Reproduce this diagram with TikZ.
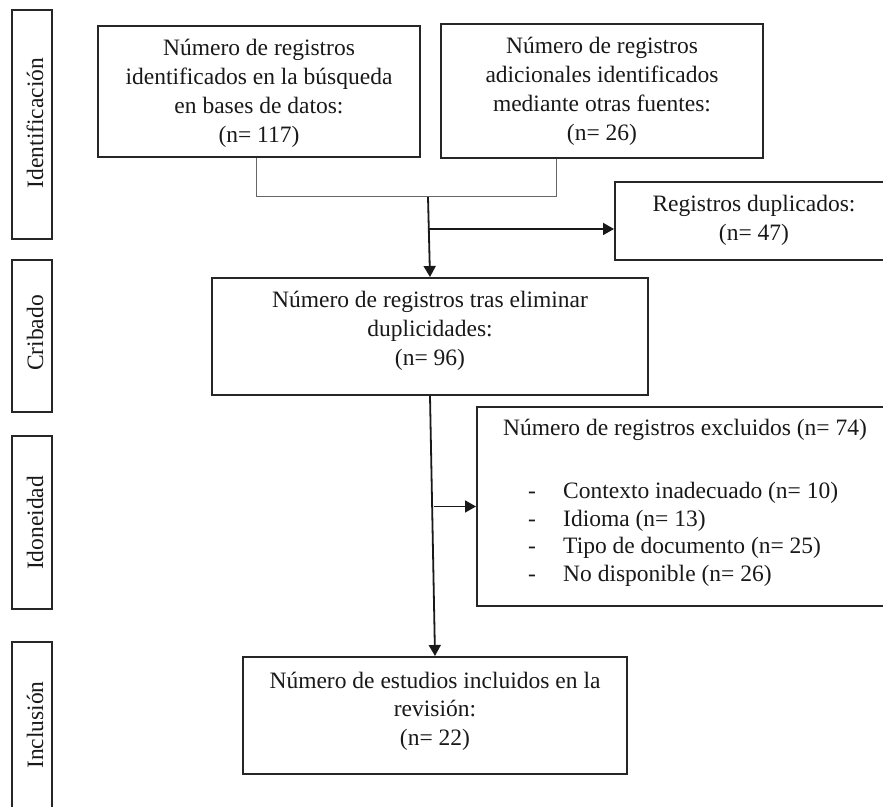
\documentclass[tikz,border=0pt]{standalone}
\usepackage{fontspec}
\setmainfont{Liberation Serif}
\usetikzlibrary{arrows.meta}
\newcommand\fs{\fontsize{23.5}{29}\selectfont}
\newcommand\fsx{\fontsize{23.5}{27.5}\selectfont}
\tikzset{
  box/.style={draw=black!85, line width=2pt, inner sep=0pt, fill=none},
  side/.style={box, minimum width=40pt},
  txt/.style={inner sep=0pt, anchor=base, font=\fs, text=black!90},
  lbl/.style={inner sep=0pt, anchor=base, rotate=90, font=\fs, text=black!90},
  thinconn/.style={draw=black!60, line width=1pt},
  arr/.style={draw=black!90, line width=1.8pt, -{Triangle[length=11pt,width=12pt]}}
}
\begin{document}
\begin{tikzpicture}[x=1pt,y=1pt]
\useasboundingbox (0,0) rectangle (883,806);
\clip (0,0) rectangle (883,806);
\fill[white] (0,0) rectangle (883,806);

% phase boxes
\node[side, minimum height=229pt] (s1) at (32,681.5) {};
\node[side, minimum height=152pt] (s2) at (32,470) {};
\node[side, minimum height=173pt] (s3) at (32,283.5) {};
\node[side, minimum height=166pt] (s4) at (32,81) {};
\node[lbl] (l1) at (43,683) {Identificación};
\node[lbl] (l2) at (43,473) {Cribado};
\node[lbl] (l3) at (43,283) {Idoneidad};
\node[lbl] (l4) at (43,81) {Inclusión};

% boxes
\node[box, minimum width=322pt, minimum height=131pt] (b1) at (259,714.5) {};
\node[txt] (t1) at (259,750) {\begin{tabular}[t]{@{}c@{}}Número de registros\\identificados en la búsqueda\\en bases de datos:\\(n= 117)\end{tabular}};

\node[box, minimum width=322pt, minimum height=134pt] (b2) at (602,715) {};
\node[txt] (t2) at (602,752) {\begin{tabular}[t]{@{}c@{}}Número de registros\\adicionales identificados\\mediante otras fuentes:\\(n= 26)\end{tabular}};

\node[box, minimum width=278pt, minimum height=78pt] (dup) at (754,585) {};
\node[txt] (td) at (754,594) {\begin{tabular}[t]{@{}c@{}}Registros duplicados:\\(n= 47)\end{tabular}};

\node[box, minimum width=436pt, minimum height=117pt] (b3) at (430,469.5) {};
\node[txt] (t3) at (430,498) {\begin{tabular}[t]{@{}c@{}}Número de registros tras eliminar\\duplicidades:\\(n= 96)\end{tabular}};

\node[box, minimum width=423pt, minimum height=199pt] (ex) at (688.5,299.5) {};
\node[inner sep=0pt, anchor=base west, font=\fsx, text=black!90] (tx) at (503,370) {\begin{tabular}[t]{@{}l@{}}Número de registros excluidos (n= 74)\\[35.5pt]
\hspace*{25pt}\makebox[35pt][l]{-}Contexto inadecuado (n= 10)\\
\hspace*{25pt}\makebox[35pt][l]{-}Idioma (n= 13)\\
\hspace*{25pt}\makebox[35pt][l]{-}Tipo de documento (n= 25)\\
\hspace*{25pt}\makebox[35pt][l]{-}No disponible (n= 26)\end{tabular}};

\node[box, minimum width=384pt, minimum height=117pt] (b4) at (435,90.5) {};
\node[txt] (t4) at (435,118) {\begin{tabular}[t]{@{}c@{}}Número de estudios incluidos en la\\revisión:\\(n= 22)\end{tabular}};

% connectors
\coordinate (ja) at (556,609);
\coordinate (m) at (428,609);
\coordinate (k) at (429,577);
\coordinate (q) at (434,299.5);
\draw[thinconn] (b1.south -| 256,0) |- (ja) -- (b2.south -| ja);
\draw[arr] (m) -- (b3.north);
\draw[arr] (k) -- (dup.west |- k);
\draw[arr] (b3.south) -- (b4.north);
\draw[arr] (q) -- (ex.west);
\end{tikzpicture}
\end{document}
